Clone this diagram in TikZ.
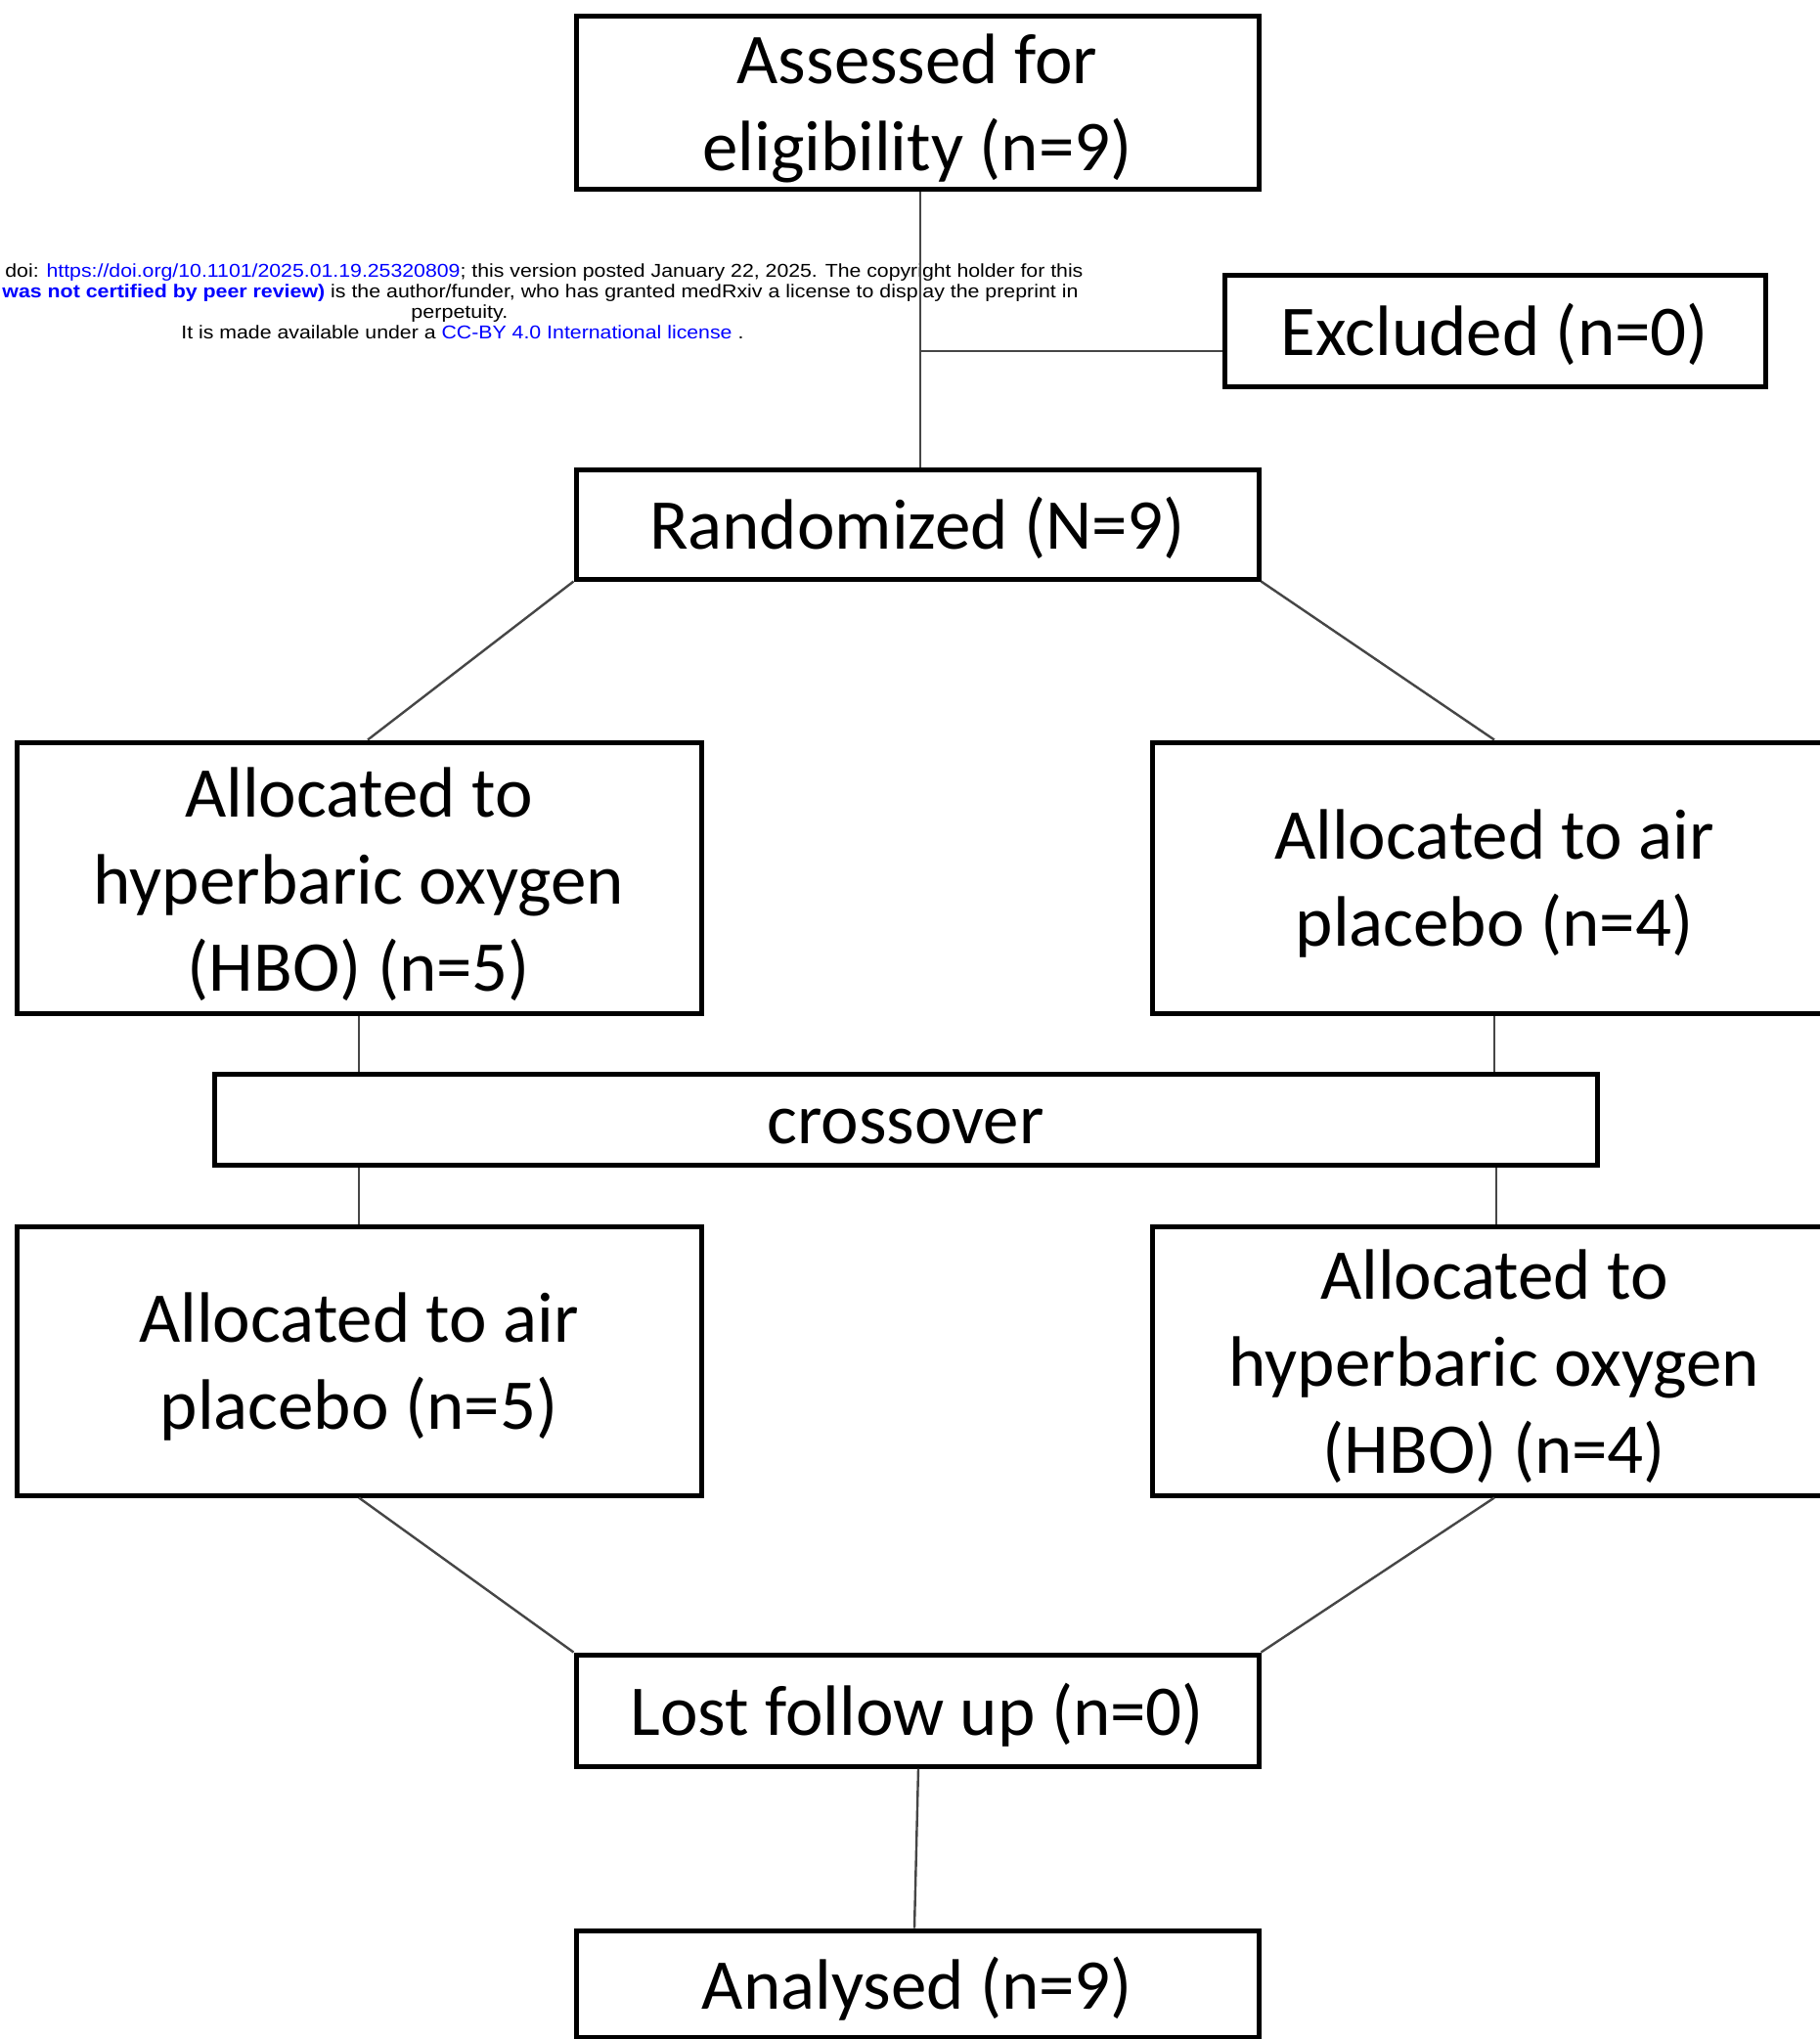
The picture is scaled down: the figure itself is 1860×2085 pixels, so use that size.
\documentclass[tikz,border=0pt]{standalone}
\usepackage{fontspec}
\setmainfont{Carlito}
\newfontfamily\hdrfont{Liberation Sans}
\usepackage{graphicx}
\definecolor{lnk}{RGB}{0,0,255}
\definecolor{connc}{RGB}{70,70,70}
\begin{document}
\begin{tikzpicture}[x=0.5pt,y=-0.5pt,
  box/.style={draw, line width=2.5pt, inner sep=0pt},
  lbl/.style={inner sep=0pt, align=center, font=\fontsize{36.5}{44.5}\selectfont},
  conn/.style={draw=connc, line width=1.2pt},
  hdr/.style={inner sep=0pt, anchor=base west, font=\hdrfont\fontsize{9.5}{11}\selectfont}]
\useasboundingbox (0,0) rectangle (1860,2085);

% header text
\node[hdr] (h1) at (5,283) {\resizebox{551pt}{\height}{doi: \textcolor{lnk}{https://doi.org/10.1101/2025.01.19.25320809}; this version posted January 22, 2025. The copyright holder for this}};
\node[hdr] (h2) at (2,304) {\resizebox{550pt}{\height}{\textcolor{lnk}{\bfseries was not certified by peer review)} is the author/funder, who has granted medRxiv a license to display the preprint in}};
\node[hdr] (h3) at (420,325) {\resizebox{49.5pt}{\height}{perpetuity.}};
\node[hdr] (h4) at (185,346) {\resizebox{287.5pt}{\height}{It is made available under a \textcolor{lnk}{CC-BY 4.0 International license} .}};

% boxes
\node[box, minimum width=349pt, minimum height=88.5pt] (assess) at (938,104.5) {};
\node[box, minimum width=276.5pt, minimum height=57pt] (excl) at (1528.5,338) {};
\node[box, minimum width=349pt, minimum height=56pt] (rand) at (938,536) {};
\node[box, minimum width=350pt, minimum height=138.5pt] (a1L) at (367,897.5) {};
\node[box, minimum width=350pt, minimum height=138.5pt] (a1R) at (1528,897.5) {};
\node[box, minimum width=707pt, minimum height=46.5pt] (cross) at (926,1144.5) {};
\node[box, minimum width=350pt, minimum height=137.5pt] (a2L) at (367,1391.5) {};
\node[box, minimum width=350pt, minimum height=137.5pt] (a2R) at (1528,1391.5) {};
\node[box, minimum width=349pt, minimum height=57pt] (lost) at (938,1749) {};
\node[box, minimum width=349pt, minimum height=54.5pt] (anal) at (938,2028.5) {};

% labels
\node[lbl] (assessT) at ([yshift=-3.3pt]assess.center) {Assessed for\\eligibility (n=9)};
\node[lbl] (exclT) at ([yshift=-2pt]excl.center) {Excluded (n=0)};
\node[lbl] (randT) at ([yshift=-2pt]rand.center) {Randomized (N=9)};
\node[lbl] (a1LT) at ([yshift=-3.3pt]a1L.center) {Allocated to\\hyperbaric oxygen\\(HBO) (n=5)};
\node[lbl] (a1RT) at ([yshift=-3pt]a1R.center) {Allocated to air\\placebo (n=4)};
\node[lbl] (crossT) at ([yshift=-3.8pt]cross.center) {crossover};
\node[lbl] (a2LT) at ([yshift=-3pt]a2L.center) {Allocated to air\\placebo (n=5)};
\node[lbl] (a2RT) at ([yshift=-3pt]a2R.center) {Allocated to\\hyperbaric oxygen\\(HBO) (n=4)};
\node[lbl] (lostT) at ([yshift=-2.5pt]lost.center) {Lost follow up (n=0)};
\node[lbl] (analT) at ([yshift=-2.5pt]anal.center) {Analysed (n=9)};

% connectors
\draw[conn] ([xshift=1.5pt]assess.south) -- ([xshift=1.5pt]rand.north);
\coordinate (j) at (941,359);
\draw[conn] (j) -- (j -| excl.west);
\draw[conn] (rand.south west) -- ([xshift=4.5pt]a1L.north);
\draw[conn] (rand.south east) -- (a1R.north);
\draw[conn] (a1L.south) -- (a1L.south |- cross.north);
\draw[conn] (a1R.south) -- (a1R.south |- cross.north);
\draw[conn] (a2L.north |- cross.south) -- (a2L.north);
\draw[conn] ([xshift=1pt]a2R.north |- cross.south) -- ([xshift=1pt]a2R.north);
\draw[conn] (a2L.south) -- (lost.north west);
\draw[conn] (a2R.south) -- (lost.north east);
\draw[conn] ([xshift=0.5pt]lost.south) -- ([xshift=-1.5pt]anal.north);
\end{tikzpicture}
\end{document}
